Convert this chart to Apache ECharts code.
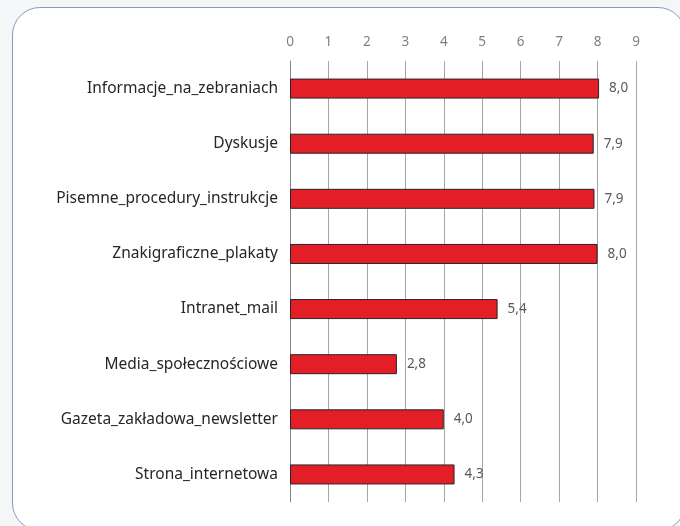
<!DOCTYPE html>
<html>
<head>
<meta charset="utf-8">
<script src="https://cdn.jsdelivr.net/npm/echarts@6/dist/echarts.min.js"></script>
<style>
html,body{margin:0;padding:0;width:680px;height:526px;overflow:hidden;background:#f5f6f8;}
#panel{position:absolute;left:12px;top:7px;width:674px;height:524px;background:#fff;border:1.5px solid #8d95c4;border-radius:28px;box-sizing:border-box;}
#chart{position:absolute;left:0;top:0;width:680px;height:526px;}
</style>
</head>
<body>
<div id="panel"></div>
<div id="chart"></div>
<script>
const categories = ["Informacje_na_zebraniach","Dyskusje","Pisemne_procedury_instrukcje","Znakigraficzne_plakaty","Intranet_mail","Media_społecznościowe","Gazeta_zakładowa_newsletter","Strona_internetowa"];
const values = [8.04, 7.9, 7.92, 8.0, 5.4, 2.78, 4.0, 4.28];
const tickMin = 0, tickMax = 9, tickStep = 1;

const chart = echarts.init(document.getElementById('chart'), null, {renderer:'canvas'});
chart.setOption({
  backgroundColor: 'transparent',
  animation: false,
  textStyle: {fontFamily: 'Noto Sans'},
  grid: {left: 290, right: 44, top: 61, bottom: 24, containLabel: false},
  xAxis: {
    type: 'value', position: 'top', min: tickMin, max: tickMax, interval: tickStep,
    axisLine: {show: false}, axisTick: {show: false},
    axisLabel: {color: '#7f7f7f', fontSize: 13.5, margin: 12},
    splitLine: {show: true, lineStyle: {color: '#a6a6a6', width: 1}}
  },
  yAxis: {
    type: 'category', data: categories, inverse: true,
    axisLine: {show: true, lineStyle: {color: '#868686', width: 1}},
    axisTick: {show: false},
    axisLabel: {color: '#262626', fontSize: 15.5, margin: 12}
  },
  series: [{
    type: 'bar', data: values, barWidth: 20,
    itemStyle: {color: '#e31e26', borderColor: '#262626', borderWidth: 1},
    label: {show: true, position: 'right', distance: 10, color: '#595959', fontSize: 13.5,
      formatter: p => p.value.toFixed(1).replace('.', ',')}
  }]
});
</script>
</body>
</html>
